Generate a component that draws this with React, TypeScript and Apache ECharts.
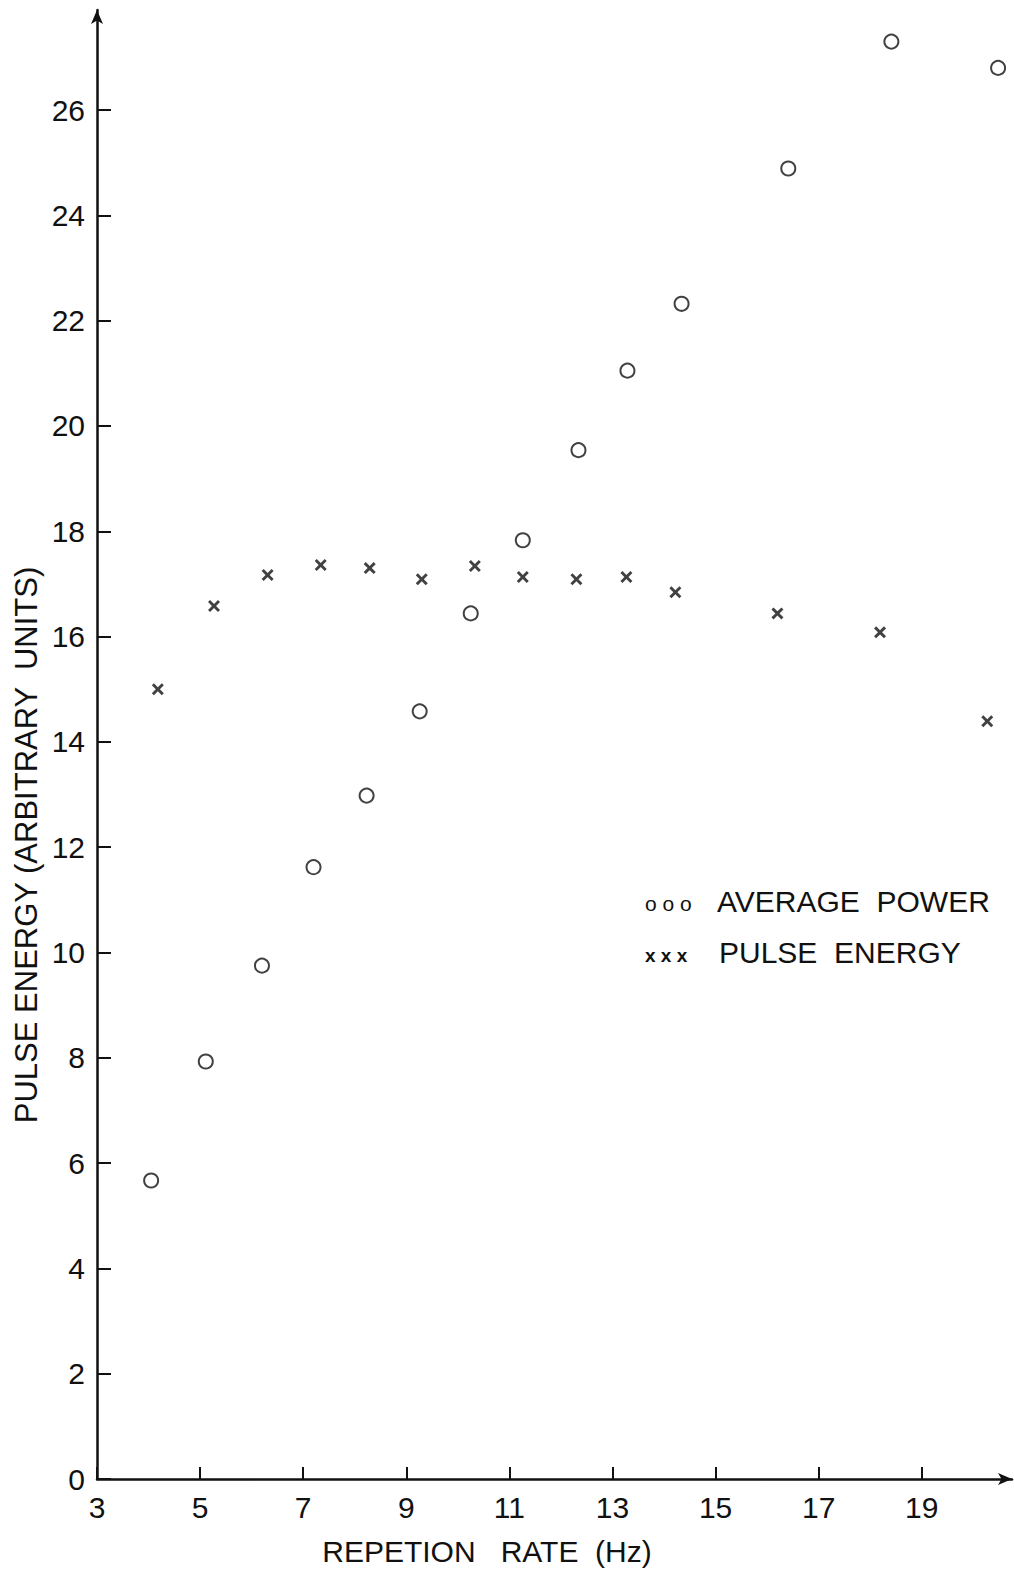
import React, { useEffect, useRef } from "react";
import * as echarts from "echarts";

const xTicks = [3, 5, 7, 9, 11, 13, 15, 17, 19];
const avgPowerX = [4.05, 5.11, 6.2, 7.2, 8.23, 9.26, 10.25, 11.26, 12.34, 13.29, 14.34, 16.41, 18.41, 20.48];
const avgPowerY = [5.67, 7.93, 9.75, 11.62, 12.98, 14.58, 16.44, 17.83, 19.54, 21.05, 22.32, 24.89, 27.3, 26.8];
const pulseX = [4.18, 5.27, 6.31, 7.34, 8.29, 9.3, 10.33, 11.26, 12.3, 13.27, 14.22, 16.2, 18.19, 20.27];
const pulseY = [15.0, 16.58, 17.17, 17.36, 17.3, 17.09, 17.34, 17.13, 17.09, 17.13, 16.84, 16.44, 16.08, 14.39];

const FONT = "Liberation Sans";
const INK = "#111";
const CROSS =
  "path://M0,1.7L1.7,0L5,3.3L8.3,0L10,1.7L6.7,5L10,8.3L8.3,10L5,6.7L1.7,10L0,8.3L3.3,5Z";

export default function App() {
  const ref = useRef<HTMLDivElement>(null);
  useEffect(() => {
    document.body.style.margin = "0";
    const chart = echarts.init(ref.current!, null, { renderer: "svg" });
    chart.setOption({
      animation: false,
      backgroundColor: "#fff",
      grid: { left: 97, right: 2, top: 10, bottom: 91, containLabel: false },
      xAxis: {
        type: "value",
        min: 3,
        max: 20.75,
        axisLine: {
          show: true,
          lineStyle: { color: INK, width: 2.5 },
          symbol: ["none", "arrow"],
          symbolSize: [9, 14],
        },
        axisTick: { show: true, inside: true, length: 12, lineStyle: { color: INK, width: 2 }, customValues: xTicks },
        axisLabel: { color: INK, fontSize: 30, fontFamily: FONT, margin: 13, customValues: xTicks },
        splitLine: { show: false },
      },
      yAxis: {
        type: "value",
        min: 0,
        max: 27.9,
        interval: 2,
        axisLine: {
          show: true,
          lineStyle: { color: INK, width: 2.5 },
          symbol: ["none", "arrow"],
          symbolSize: [9, 14],
        },
        axisTick: { show: true, inside: true, length: 14, lineStyle: { color: INK, width: 2 } },
        axisLabel: { color: INK, fontSize: 30, fontFamily: FONT, margin: 12, showMaxLabel: false },
        splitLine: { show: false },
      },
      graphic: [
        {
          type: "text",
          x: 26,
          y: 845,
          rotation: Math.PI / 2,
          style: {
            text: "PULSE ENERGY (ARBITRARY  UNITS)",
            font: `31px "${FONT}"`,
            fill: INK,
            textAlign: "center",
            textVerticalAlign: "middle",
          },
        },
        {
          type: "text",
          x: 487,
          y: 1551,
          style: {
            text: "REPETION   RATE  (Hz)",
            font: `30px "${FONT}"`,
            fill: INK,
            textAlign: "center",
            textVerticalAlign: "middle",
          },
        },
        {
          type: "text",
          x: 645,
          y: 903,
          style: {
            text: "o o o",
            font: `21px "${FONT}"`,
            fill: INK,
            textAlign: "left",
            textVerticalAlign: "middle",
          },
        },
        {
          type: "text",
          x: 717,
          y: 901,
          style: {
            text: "AVERAGE  POWER",
            font: `30px "${FONT}"`,
            fill: INK,
            textAlign: "left",
            textVerticalAlign: "middle",
          },
        },
        {
          type: "text",
          x: 645,
          y: 955,
          style: {
            text: "x x x",
            font: `bold 19px "${FONT}"`,
            fill: INK,
            textAlign: "left",
            textVerticalAlign: "middle",
          },
        },
        {
          type: "text",
          x: 719,
          y: 952,
          style: {
            text: "PULSE  ENERGY",
            font: `30px "${FONT}"`,
            fill: INK,
            textAlign: "left",
            textVerticalAlign: "middle",
          },
        },
      ],
      series: [
        {
          name: "AVERAGE POWER",
          type: "scatter",
          symbol: "circle",
          symbolSize: 14,
          itemStyle: { color: "#fff", borderColor: INK, borderWidth: 2 },
          data: avgPowerX.map((x, i) => [x, avgPowerY[i]]),
        },
        {
          name: "PULSE ENERGY",
          type: "scatter",
          symbol: CROSS,
          symbolSize: 12,
          itemStyle: { color: INK },
          data: pulseX.map((x, i) => [x, pulseY[i]]),
        },
      ],
    });
    return () => chart.dispose();
  }, []);
  return <div ref={ref} style={{ width: 1014, height: 1570 }} />;
}
